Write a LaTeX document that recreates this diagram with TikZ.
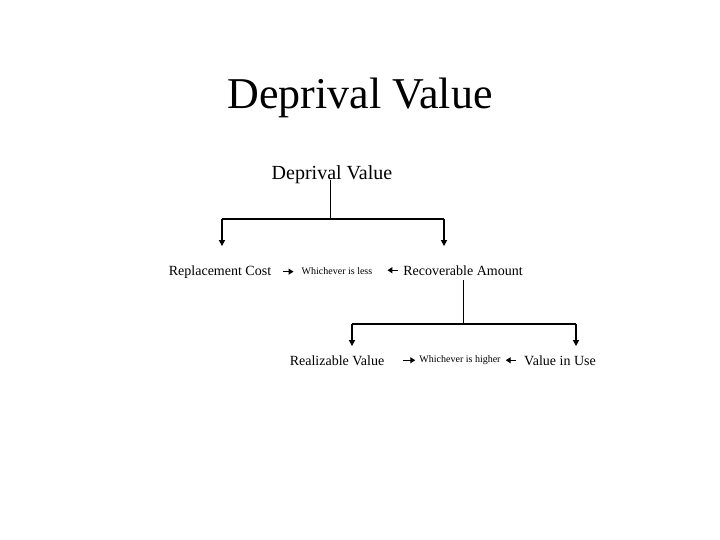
\documentclass[tikz,border=0pt]{standalone}
\usepackage{fontspec}
\setmainfont{Liberation Serif}
\usetikzlibrary{arrows.meta}
\begin{document}
\begin{tikzpicture}[x=1pt,y=-1pt,
  lbl/.style={inner sep=0pt, anchor=base},
  big/.style={lbl, font=\fontsize{44}{50}\selectfont},
  mid/.style={lbl, font=\fontsize{20}{24}\selectfont},
  norm/.style={lbl, font=\fontsize{14}{16}\selectfont},
  small/.style={lbl, font=\fontsize{10}{12}\selectfont},
  thinline/.style={line width=1pt},
  barline/.style={line width=1.6pt},
  downarrow/.style={line width=1.8pt, -{Triangle[length=6pt,width=6pt]}},
  sidearrow/.style={line width=1.4pt, -{Triangle[length=5pt,width=6pt]}}]
\useasboundingbox (0,0) rectangle (720,540);
\node[big] (title) at (360,109) {Deprival Value};
\node[mid] (dv) at (332,180) {Deprival Value};
\node[norm] (rc) at (220,275) {Replacement Cost};
\node[small] (wl) at (337,274) {Whichever is less};
\node[norm] (ra) at (463,275) {Recoverable Amount};
\node[norm] (rv) at (337,365) {Realizable Value};
\node[small] (wh) at (460,362) {Whichever is higher};
\node[norm] (viu) at (560,365) {Value in Use};
% first tree
\coordinate (j1) at (330,219);
\coordinate (l1) at (222,219);
\coordinate (r1) at (444,219);
\draw[thinline] (dv.base -| j1) -- (j1);
\draw[barline] (l1) -- (r1);
\draw[downarrow, shorten >=19pt] (l1) -- (l1 |- rc.north);
\draw[downarrow, shorten >=19pt] (r1) -- (r1 |- ra.north);
% row 1 side arrows
\draw[sidearrow, shorten <=12pt, shorten >=8pt] (rc.east) -- (rc.east -| wl.west);
\draw[sidearrow, shorten <=5pt, shorten >=15pt] (ra.west) -- (ra.west -| wl.east);
% second tree
\coordinate (j2) at (463,324);
\coordinate (l2) at (352,324);
\coordinate (r2) at (576,324);
\draw[thinline, shorten <=5pt] (ra.south -| j2) -- (j2);
\draw[barline] (l2) -- (r2);
\draw[downarrow, shorten >=9pt] (l2) -- (l2 |- rv.north);
\draw[downarrow, shorten >=9pt] (r2) -- (r2 |- viu.north);
% row 2 side arrows
\draw[sidearrow, shorten <=19pt, shorten >=4pt] (rv.east) -- (rv.east -| wh.west);
\draw[sidearrow, shorten <=8pt, shorten >=5pt] (viu.west) -- (viu.west -| wh.east);
\end{tikzpicture}
\end{document}
